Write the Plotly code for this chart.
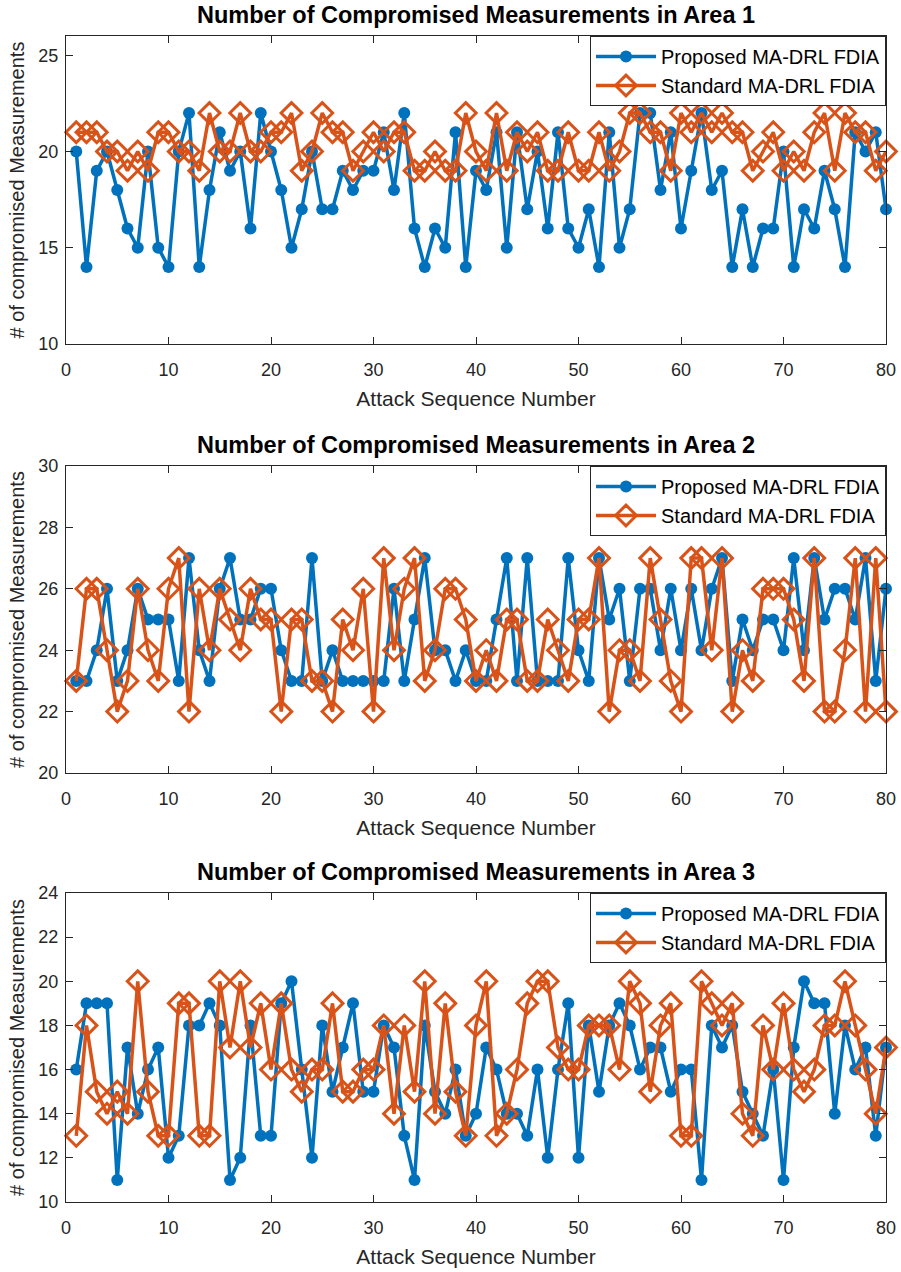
import plotly.graph_objects as go

x = list(range(1, 81))

a1_proposed = [20,14,19,20,18,16,15,20,15,14,
               20,22,14,18,21,19,20,16,22,20,
               18,15,17,20,17,17,19,18,19,19,
               21,18,22,16,14,16,15,21,14,19,
               18,21,15,21,17,20,16,21,16,15,
               17,14,21,15,17,22,22,18,21,16,
               19,22,18,19,14,17,14,16,16,20,
               14,17,16,19,17,14,21,20,21,17]
a1_standard = [21,21,21,20,20,19,20,19,21,21,
               20,20,19,22,20,20,22,20,20,21,
               21,22,19,20,22,21,21,19,20,21,
               20,21,21,19,19,20,19,19,22,20,
               19,22,19,21,20,21,19,19,21,19,
               19,21,19,20,22,22,21,21,19,22,
               21,22,21,22,21,21,19,20,21,19,
               20,19,21,22,19,22,21,21,19,20]
a2_proposed = [23,23,24,26,23,24,26,25,25,25,
               23,27,24,23,26,27,25,25,26,26,
               24,23,23,27,23,24,23,23,23,23,
               23,26,23,25,27,24,24,23,24,23,
               23,25,27,23,27,23,23,23,27,24,
               23,27,25,26,23,26,26,24,26,24,
               26,24,26,27,23,25,24,25,25,24,
               27,24,27,25,26,26,25,27,23,26]
a2_standard = [23,26,26,24,22,23,26,24,23,26,
               27,22,26,24,26,25,24,26,25,25,
               22,25,25,23,23,22,25,24,26,22,
               27,24,26,27,23,24,26,26,25,23,
               24,23,25,25,23,23,25,24,23,25,
               25,27,22,24,24,23,27,25,23,22,
               27,27,24,27,22,24,23,26,26,26,
               25,23,27,22,22,24,27,22,27,22]
a3_proposed = [16,19,19,19,11,17,14,16,17,12,
               13,18,18,19,18,11,12,18,13,13,
               19,20,16,12,18,15,17,19,15,15,
               18,17,13,11,18,15,14,16,13,14,
               17,16,14,14,13,16,12,16,19,12,
               18,15,18,19,18,16,17,17,15,16,
               16,11,18,17,18,15,14,13,16,11,
               17,20,19,19,14,18,16,17,13,17]
a3_standard = [13,18,15,14,15,14,20,15,13,13,
               19,19,13,13,20,17,20,17,19,16,
               19,16,15,16,16,19,15,15,16,16,
               18,14,18,15,20,14,19,15,13,18,
               20,13,14,16,19,20,20,17,16,16,
               18,18,18,16,20,19,15,18,19,13,
               13,20,19,18,19,14,13,18,16,19,
               16,15,16,18,18,20,18,16,14,17]

titles = ["Number of Compromised Measurements in Area 1",
          "Number of Compromised Measurements in Area 2",
          "Number of Compromised Measurements in Area 3"]
y_ranges = [[10, 26], [20, 30], [10, 24]]
y_dticks = [5, 2, 2]
series = [(a1_proposed, a1_standard), (a2_proposed, a2_standard), (a3_proposed, a3_standard)]

W, H = 901, 1272
L, R = 66, 886
panels_px = [(36, 344), (466, 773), (893, 1202)]
T, B = 36, 1202
ph = B - T

def dom(top, bot):
    return [(B - bot) / ph, (B - top) / ph]

BLUE = "#0072BD"
ORANGE = "#D95319"
AX = "#262626"
FONT = "Liberation Sans, Arial, sans-serif"

fig = go.Figure()
layout = dict(
    width=W, height=H,
    margin=dict(l=L, r=W - R, t=T, b=H - B, autoexpand=False),
    paper_bgcolor="white", plot_bgcolor="white",
    font=dict(family=FONT, size=18, color=AX),
    showlegend=True,
)
annotations = []
for i in range(3):
    k = "" if i == 0 else str(i + 1)
    prop, std = series[i]
    leg = "legend" if i == 0 else f"legend{i+1}"
    fig.add_trace(go.Scatter(
        x=x, y=prop, mode="lines+markers", name="Proposed MA-DRL FDIA",
        line=dict(color=BLUE, width=3.5),
        marker=dict(symbol="circle", size=12, color=BLUE),
        cliponaxis=False,
        xaxis="x" + k, yaxis="y" + k, legend=leg))
    fig.add_trace(go.Scatter(
        x=x, y=std, mode="lines+markers", name="Standard MA-DRL FDIA",
        line=dict(color=ORANGE, width=3.5),
        marker=dict(symbol="diamond-open", size=16, color=ORANGE,
                    line=dict(color=ORANGE, width=3)),
        cliponaxis=False,
        xaxis="x" + k, yaxis="y" + k, legend=leg))
    d = dom(*panels_px[i])
    layout["xaxis" + k] = dict(
        domain=[0, 1], anchor="y" + k, range=[0, 80], dtick=10, tick0=0,
        showline=True, linecolor=AX, linewidth=1, mirror="ticks",
        ticks="inside", ticklen=7, tickcolor=AX, showgrid=False, zeroline=False,
        tickfont=dict(size=18, color=AX), ticklabelstandoff=9,
        title=dict(text="Attack Sequence Number", font=dict(size=21, color=AX), standoff=12),
    )
    layout["yaxis" + k] = dict(
        domain=d, anchor="x" + k, range=y_ranges[i], dtick=y_dticks[i], tick0=0,
        showline=True, linecolor=AX, linewidth=1, mirror="ticks",
        ticks="inside", ticklen=7, tickcolor=AX, showgrid=False, zeroline=False,
        tickfont=dict(size=18, color=AX), ticklabelstandoff=3,
        title=dict(text="# of compromised Measurements", font=dict(size=20, color=AX), standoff=8),
    )
    layout[leg] = dict(
        x=1, y=d[1], xanchor="right", yanchor="top", xref="paper", yref="paper",
        bgcolor="white", bordercolor=AX, borderwidth=1,
        font=dict(size=20, color="black"), tracegroupgap=0,
        itemwidth=60,
    )
    annotations.append(dict(
        text="<b>" + titles[i] + "</b>", x=0.5, xref="paper",
        y=d[1], yref="paper", yanchor="bottom", yshift=6, showarrow=False,
        font=dict(size=23.5, color="black", family=FONT)))
layout["annotations"] = annotations
fig.update_layout(**layout)
fig.write_html("out.html")
